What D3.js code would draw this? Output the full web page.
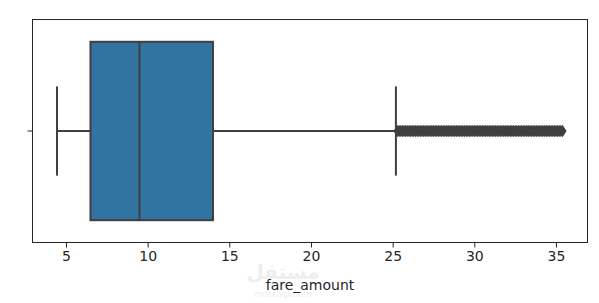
<!DOCTYPE html>
<html>
<head>
<meta charset="utf-8">
<script src="https://cdn.jsdelivr.net/npm/d3@7"></script>
<style>
  body { margin: 0; background: #fff; }
  text { font-family: "DejaVu Sans", sans-serif; }
</style>
</head>
<body>
<div id="chart"></div>
<script>
// Data
var xTicks = [5, 10, 15, 20, 25, 30, 35];
var boxStats = [4.45, 6.5, 9.5, 14.0, 25.2];  // whisker low, q1, median, q3, whisker high
var fliers = [25.3, 25.4, 25.5, 25.6, 25.7, 25.8, 25.9, 26.0, 26.1, 26.2, 26.3, 26.4,
              26.5, 26.6, 26.7, 26.8, 26.9, 27.0, 27.1, 27.2, 27.3, 27.4, 27.5, 27.6,
              27.7, 27.8, 27.9, 28.0, 28.1, 28.2, 28.3, 28.4, 28.5, 28.6, 28.7, 28.8,
              28.9, 29.0, 29.1, 29.2, 29.3, 29.4, 29.5, 29.6, 29.7, 29.8, 29.9, 30.0,
              30.1, 30.2, 30.3, 30.4, 30.5, 30.6, 30.7, 30.8, 30.9, 31.0, 31.1, 31.2,
              31.3, 31.4, 31.5, 31.6, 31.7, 31.8, 31.9, 32.0, 32.1, 32.2, 32.3, 32.4,
              32.5, 32.6, 32.7, 32.8, 32.9, 33.0, 33.1, 33.2, 33.3, 33.4, 33.5, 33.6,
              33.7, 33.8, 33.9, 34.0, 34.1, 34.2, 34.3, 34.4, 34.5, 34.6, 34.7, 34.8,
              34.9, 35.0, 35.1, 35.2, 35.3, 35.4];
var xLabel = "fare_amount";

////////////////////////////////////////////////////////////////////////////////
// Layout
////////////////////////////////////////////////////////////////////////////////
var W = 599, H = 303;
var pLeft = 32.5, pRight = 587.5, pTop = 19.5, pBottom = 242.5;
var gray = "#3f3f3f";
var boxFill = "#3274a1";

var svg = d3.select("#chart").append("svg")
   .attr("width", W)
   .attr("height", H);

var x = d3.scaleLinear().domain([2.95, 36.93]).range([pLeft, pRight]);
var y = d3.scaleLinear().domain([-0.5, 0.5]).range([pTop, pBottom]);

// faint watermark behind everything
svg.append("text")
   .attr("x", 283).attr("y", 279)
   .attr("text-anchor", "middle")
   .attr("font-family", "Noto Sans, DejaVu Sans, sans-serif")
   .attr("font-size", "20px")
   .attr("font-weight", "bold")
   .attr("fill", "#eeeeee")
   .text("مستقل");
svg.append("text")
   .attr("x", 283).attr("y", 297)
   .attr("text-anchor", "middle")
   .attr("font-size", "9px")
   .attr("fill", "#eeeeee")
   .text("mostaql.com");

var g = svg.append("g");

// whiskers
g.selectAll(".whisker")
   .data([[boxStats[0], boxStats[1]], [boxStats[3], boxStats[4]]])
   .enter().append("line")
   .attr("class", "whisker")
   .attr("x1", function(d) { return x(d[0]); })
   .attr("x2", function(d) { return x(d[1]); })
   .attr("y1", y(0)).attr("y2", y(0))
   .attr("stroke", gray).attr("stroke-width", 2);

// caps
g.selectAll(".cap")
   .data([boxStats[0], boxStats[4]])
   .enter().append("line")
   .attr("class", "cap")
   .attr("x1", function(d) { return x(d); })
   .attr("x2", function(d) { return x(d); })
   .attr("y1", y(-0.2)).attr("y2", y(0.2))
   .attr("stroke", gray).attr("stroke-width", 2);

// box
g.append("rect")
   .attr("x", x(boxStats[1]))
   .attr("y", y(-0.4))
   .attr("width", x(boxStats[3]) - x(boxStats[1]))
   .attr("height", y(0.4) - y(-0.4))
   .attr("fill", boxFill)
   .attr("stroke", gray).attr("stroke-width", 2);

// median
g.append("line")
   .attr("x1", x(boxStats[2])).attr("x2", x(boxStats[2]))
   .attr("y1", y(-0.4)).attr("y2", y(0.4))
   .attr("stroke", gray).attr("stroke-width", 2);

// fliers (thin diamonds)
g.selectAll(".flier")
   .data(fliers)
   .enter().append("path")
   .attr("class", "flier")
   .attr("d", function(d) {
      var cx = x(d), cy = y(0), hw = 3.6, hh = 5.5;
      return "M" + (cx - hw) + "," + cy + "L" + cx + "," + (cy - hh) +
             "L" + (cx + hw) + "," + cy + "L" + cx + "," + (cy + hh) + "Z";
   })
   .attr("fill", gray)
   .attr("stroke", gray)
   .attr("stroke-width", 1)
   .attr("stroke-linejoin", "round");

// frame
svg.append("rect")
   .attr("x", pLeft).attr("y", pTop)
   .attr("width", pRight - pLeft).attr("height", pBottom - pTop)
   .attr("fill", "none")
   .attr("stroke", "#262626").attr("stroke-width", 1);

// x axis
var xAxis = d3.axisBottom(x).tickValues(xTicks).tickSize(5).tickPadding(4)
   .tickFormat(d3.format("d"));
var ax = svg.append("g")
   .attr("transform", "translate(0," + pBottom + ")")
   .call(xAxis);
ax.select(".domain").remove();
ax.selectAll(".tick line").attr("stroke", "#262626");
ax.selectAll(".tick text")
   .attr("font-size", "14px")
   .attr("font-family", "DejaVu Sans, sans-serif")
   .attr("fill", "#262626");

// y tick (no label)
svg.append("line")
   .attr("x1", pLeft - 5).attr("x2", pLeft)
   .attr("y1", y(0)).attr("y2", y(0))
   .attr("stroke", "#262626");

// x label
svg.append("text")
   .attr("x", (pLeft + pRight) / 2)
   .attr("y", 290)
   .attr("text-anchor", "middle")
   .attr("font-size", "14px")
   .attr("fill", "#262626")
   .text(xLabel);
</script>
</body>
</html>
